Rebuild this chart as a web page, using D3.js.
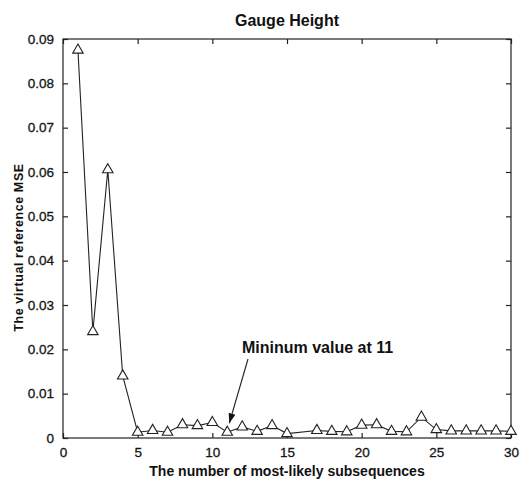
<html>
<script src='https://d3js.org/d3.v7.min.js'></script>
<style>
body { margin: 0; background: #fff; }
text { font-family: 'Liberation Sans', Arial, sans-serif; fill: #111; }
</style>
<body onload='init()'>
<svg width=520 height=483></svg>

<script>
// subsequence counts (no marker at 16 in the original)
var counts = [1,2,3,4,5,6,7,8,9,10,11,12,13,14,15,17,18,19,20,21,22,23,24,25,26,27,28,29,30];
var mse = [0.0875,0.0240,0.0605,0.0140,0.0013,0.0017,0.0013,0.0030,0.0028,0.0035,0.0013,0.0025,0.0015,0.0028,0.0010,
           0.0017,0.0015,0.0014,0.0029,0.0030,0.0015,0.0014,0.0047,0.0019,0.0016,0.0016,0.0016,0.0016,0.0015];
var xTicks = [0,5,10,15,20,25,30];
var yTicks = [0,0.01,0.02,0.03,0.04,0.05,0.06,0.07,0.08,0.09];

function init() {
    var left = 63, top = 39, width = 448, height = 399;
    var svg = d3.select("svg");

    var xScale = d3.scaleLinear().domain([0, 30]).range([0, width]);
    var yScale = d3.scaleLinear().domain([0, 0.09]).range([height, 0]);

    var g = svg.append("g").attr("transform", "translate(" + left + "," + top + ")");

    // box
    g.append("rect").attr("width", width).attr("height", height)
        .attr("fill", "none").attr("stroke", "#222").attr("stroke-width", 1.2);

    // axes with inward ticks
    var fmt = function(d) { return d === 0 ? "0" : d3.format(".2f")(d); };
    g.append("g").attr("transform", "translate(0," + height + ")")
        .call(d3.axisBottom(xScale).tickValues(xTicks).tickSize(-5).tickPadding(9));
    g.append("g")
        .call(d3.axisTop(xScale).tickValues(xTicks).tickSize(-5).tickFormat(""));
    g.append("g")
        .call(d3.axisLeft(yScale).tickValues(yTicks).tickSize(-5).tickPadding(9).tickFormat(fmt));
    g.append("g").attr("transform", "translate(" + width + ",0)")
        .call(d3.axisRight(yScale).tickValues(yTicks).tickSize(-5).tickFormat(""));
    g.selectAll(".domain").remove();
    g.selectAll(".tick line").attr("stroke", "#222").attr("stroke-width", 1.2);
    g.selectAll(".tick text").attr("font-size", 13.5).attr("fill", "#1a1a1a")
        .attr("stroke", "#1a1a1a").attr("stroke-width", 0.3)
        .attr("font-family", "'Liberation Sans', Arial, sans-serif");

    // line
    var pts = counts.map(function(c, i) { return [c, mse[i]]; });
    g.append("path").datum(pts)
        .attr("fill", "none").attr("stroke", "#222").attr("stroke-width", 1.1)
        .attr("d", d3.line().x(function(d) { return xScale(d[0]); }).y(function(d) { return yScale(d[1]); }));

    // triangle markers
    g.selectAll(".mk").data(pts).enter().append("path")
        .attr("class", "mk")
        .attr("transform", function(d) { return "translate(" + xScale(d[0]) + "," + yScale(d[1]) + ")"; })
        .attr("d", d3.symbol().type(d3.symbolTriangle).size(48))
        .attr("fill", "#fff").attr("stroke", "#222").attr("stroke-width", 1.1);

    // annotation
    svg.append("defs").append("marker").attr("id", "arr")
        .attr("viewBox", "0 0 10 10").attr("refX", 10).attr("refY", 5)
        .attr("markerWidth", 9).attr("markerHeight", 9).attr("orient", "auto")
        .append("path").attr("d", "M0,1.5L10,5L0,8.5Z").attr("fill", "#111");
    var minX = xScale(11), minY = yScale(0.0013);
    g.append("line")
        .attr("x1", 185).attr("y1", 320)
        .attr("x2", minX + 2).attr("y2", minY - 9)
        .attr("stroke", "#222").attr("stroke-width", 1.1).attr("marker-end", "url(#arr)");
    g.append("text").attr("x", 179).attr("y", 314)
        .attr("font-size", 16).attr("font-weight", "bold")
        .text("Mininum value at 11");

    // title & labels
    svg.append("text").attr("x", left + width / 2).attr("y", 26)
        .attr("text-anchor", "middle").attr("font-size", 16).attr("font-weight", "bold")
        .text("Gauge Height");
    svg.append("text").attr("x", left + width / 2).attr("y", 476)
        .attr("text-anchor", "middle").attr("font-size", 14).attr("font-weight", "bold")
        .text("The number of most-likely subsequences");
    svg.append("text")
        .attr("transform", "translate(23," + (top + height / 2 + 9) + ") rotate(-90)")
        .attr("text-anchor", "middle").attr("font-size", 12.5).attr("font-weight", "bold")
        .attr("letter-spacing", 0.6)
        .text("The virtual reference MSE");
}
</script>
</body>
</html>
